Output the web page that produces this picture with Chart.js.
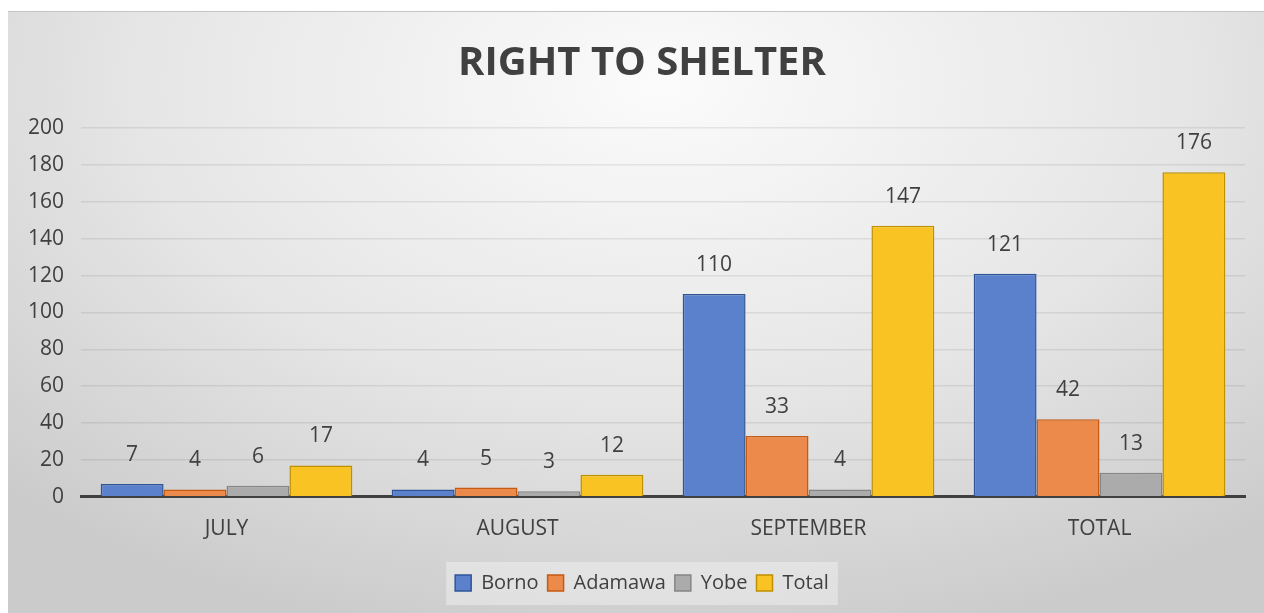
<!DOCTYPE html>
<html>
<head>
<meta charset="utf-8">
<script src="https://cdn.jsdelivr.net/npm/chart.js@4"></script>
<style>
  html, body { margin: 0; padding: 0; background: #fff; }
  #panel {
    position: absolute; left: 8px; top: 11px; width: 1256px; height: 602px;
    border-top: 1px solid #c4c4c4;
    background: radial-gradient(ellipse 75% 95% at 52% 12%, #fbfbfb 0%, #e6e6e6 55%, #cbcbcb 100%);
  }
</style>
</head>
<body>
<div id="panel"><canvas id="shelter-chart" width="1256" height="602"></canvas></div>
<script>
const months = ['JULY', 'AUGUST', 'SEPTEMBER', 'TOTAL']
const borno = [7, 4, 110, 121]
const adamawa = [4, 5, 33, 42]
const yobe = [6, 3, 4, 13]
const total = [17, 12, 147, 176]

const textColor = '#404040'
const fontFamily = '"Open Sans", sans-serif'

// writes the value above every bar
const valueLabels = {
    id: 'valueLabels',
    afterDatasetsDraw(chart) {
        const c = chart.ctx
        c.save()
        c.font = '21px ' + fontFamily
        c.fillStyle = textColor
        c.textAlign = 'center'
        c.textBaseline = 'middle'
        chart.data.datasets.forEach((ds, i) => {
            chart.getDatasetMeta(i).data.forEach((bar, j) => {
                c.fillText(ds.data[j], bar.x, bar.y - 29)
            })
        })
        c.restore()
    }
}

// light box behind the legend
const legendBox = {
    id: 'legendBox',
    beforeDraw(chart) {
        const l = chart.legend
        if (!l || !l.legendHitBoxes || !l.legendHitBoxes.length) return
        const boxes = l.legendHitBoxes
        const left = Math.min(...boxes.map(b => b.left)) - 9
        const right = Math.max(...boxes.map(b => b.left + b.width)) + 9
        const mid = boxes[0].top + boxes[0].height / 2
        const c = chart.ctx
        c.save()
        c.fillStyle = 'rgba(255,255,255,0.35)'
        c.fillRect(left, mid - 21, right - left, 43)
        c.restore()
    }
}

function makeSet(label, data, fill, border) {
    return {
        label: label,
        data: data,
        backgroundColor: fill,
        borderColor: border,
        borderWidth: 1.5,
        categoryPercentage: 0.865,
        barPercentage: 1.0
    }
}

new Chart(document.getElementById('shelter-chart'), {
    type: 'bar',
    data: {
        labels: months,
        datasets: [
            makeSet('Borno', borno, '#5B80CC', '#2F5597'),
            makeSet('Adamawa', adamawa, '#EB8A4B', '#C55A11'),
            makeSet('Yobe', yobe, '#ABABAB', '#858585'),
            makeSet('Total', total, '#F8C323', '#BF9000')
        ]
    },
    options: {
        responsive: false,
        animation: false,
        layout: { padding: { left: 31, right: 19, top: 0, bottom: 11 } },
        plugins: {
            title: {
                display: true,
                text: 'RIGHT TO SHELTER',
                color: textColor,
                font: { family: fontFamily, size: 40, weight: 'bold' },
                padding: { top: 28, bottom: 40 }
            },
            legend: {
                position: 'bottom',
                labels: {
                    color: textColor,
                    font: { family: fontFamily, size: 20 },
                    boxWidth: 16,
                    boxHeight: 16,
                    padding: 9
                }
            },
            tooltip: { enabled: false }
        },
        scales: {
            x: {
                grid: { display: false },
                border: { display: true, color: '#404040', width: 3 },
                ticks: { color: textColor, font: { family: fontFamily, size: 21 }, padding: 12 },
                afterFit(scale) { scale.height += 10 }
            },
            y: {
                min: 0,
                max: 200,
                ticks: { stepSize: 20, color: textColor, font: { family: fontFamily, size: 21 }, padding: 17 },
                grid: { color: 'rgba(0,0,0,0.08)', lineWidth: 1.5, drawTicks: false },
                border: { display: false },
                afterFit(scale) {
                    // narrower axis box so the title and legend sit centred like the original; labels may spill left
                    scale.width -= 28
                    scale._computeLabelArea = () => null
                }
            }
        }
    },
    plugins: [valueLabels, legendBox]
})
</script>
</body>
</html>
